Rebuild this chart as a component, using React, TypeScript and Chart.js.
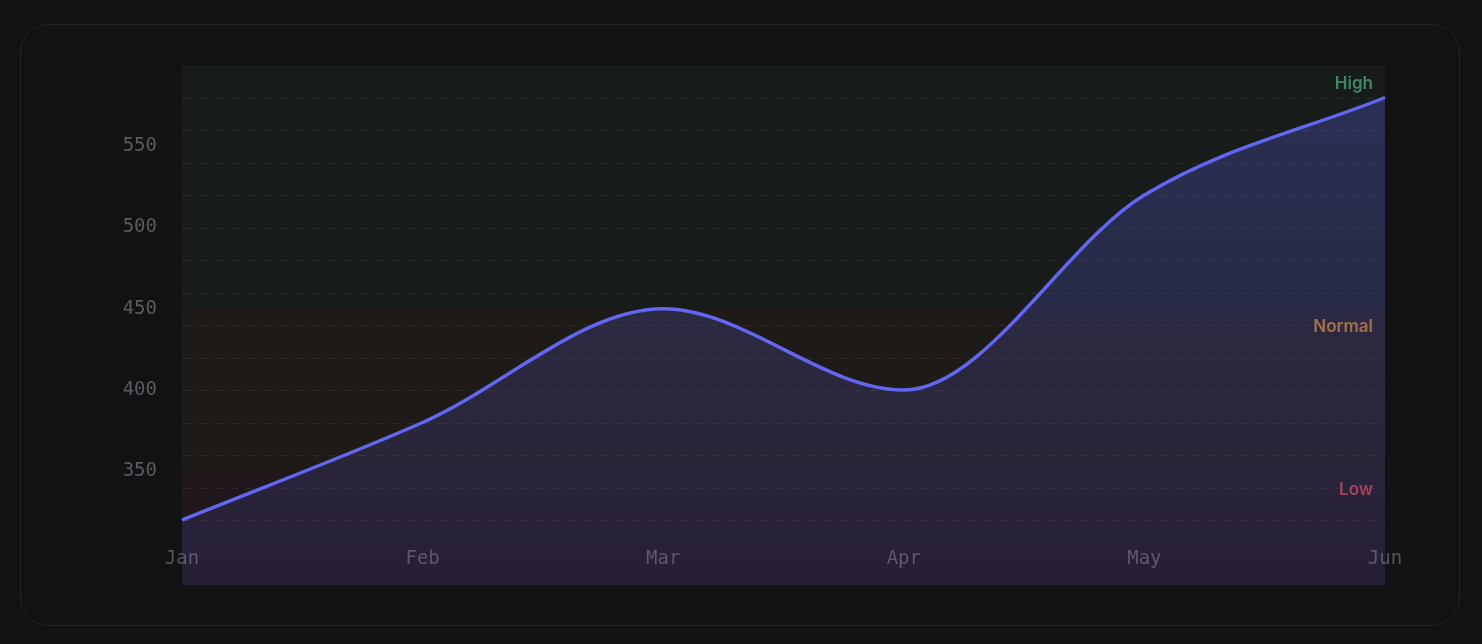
import React, { useEffect, useRef } from "react";
import { Chart, registerables } from "chart.js";

Chart.register(...registerables);

const months = ["Jan", "Feb", "Mar", "Apr", "May", "Jun"];
const values = [320, 380, 450, 400, 520, 580];
const yTickValues = [350, 400, 450, 500, 550];
const gridValues = [320, 340, 360, 380, 400, 420, 440, 460, 480, 500, 520, 540, 560, 580];
const bandNames = ["High", "Normal", "Low"];
const bandFrom = [450, 350, 280];
const bandTo = [600, 450, 350];
const bandFill = ["rgba(118,218,170,0.05)", "rgba(235,168,87,0.06)", "rgba(232,104,148,0.065)"];
const bandText = ["#3f8a62", "#a4714c", "#a4455a"];
const yMin = 280;
const yMax = 600;

const bandsPlugin = {
  id: "bands",
  beforeDatasetsDraw(chart: any) {
    const { ctx, chartArea, scales } = chart;
    const y = scales.y;
    ctx.save();
    for (let i = 0; i < bandNames.length; i++) {
      const top = y.getPixelForValue(bandTo[i]);
      const bottom = y.getPixelForValue(bandFrom[i]);
      ctx.fillStyle = bandFill[i];
      ctx.fillRect(chartArea.left, top, chartArea.right - chartArea.left, bottom - top);
    }
    ctx.strokeStyle = "rgba(255,255,255,0.075)";
    ctx.lineWidth = 1;
    ctx.setLineDash([8, 8]);
    for (const v of gridValues) {
      const py = Math.round(y.getPixelForValue(v)) + 0.5;
      ctx.beginPath();
      ctx.moveTo(chartArea.left, py);
      ctx.lineTo(chartArea.right, py);
      ctx.stroke();
    }
    ctx.restore();
  },
  afterDatasetsDraw(chart: any) {
    const { ctx, chartArea, scales } = chart;
    const y = scales.y;
    ctx.save();
    ctx.font = "600 17px Inter, 'Noto Sans', sans-serif";
    ctx.textAlign = "right";
    ctx.textBaseline = "middle";
    for (let i = 0; i < bandNames.length; i++) {
      const top = y.getPixelForValue(bandTo[i]);
      ctx.fillStyle = bandText[i];
      ctx.fillText(bandNames[i], chartArea.right - 12, top + 18.5);
    }
    ctx.restore();
  },
};

export default function App() {
  const ref = useRef<HTMLCanvasElement>(null);
  useEffect(() => {
    if (!ref.current) return;
    const chart = new Chart(ref.current, {
      type: "line",
      data: {
        labels: months,
        datasets: [
          {
            data: values,
            borderColor: "#6366f1",
            borderWidth: 3.5,
            cubicInterpolationMode: "monotone",
            pointRadius: 0,
            pointHoverRadius: 0,
            fill: "start",
            backgroundColor: (c: any) => {
              const area = c.chart.chartArea;
              if (!area) return "rgba(99,102,241,0.2)";
              const g = c.chart.ctx.createLinearGradient(0, area.top, 0, area.bottom);
              g.addColorStop(0, "rgba(99,102,241,0.28)");
              g.addColorStop(1, "rgba(99,102,241,0.11)");
              return g;
            },
          },
        ],
      },
      options: {
        animation: false,
        responsive: false,
        maintainAspectRatio: false,
        layout: { padding: { left: 41, top: 40, right: 74, bottom: 40 } },
        plugins: { legend: { display: false }, tooltip: { enabled: false } },
        scales: {
          x: {
            offset: false,
            grid: { display: false },
            border: { display: false },
            ticks: {
              mirror: true,
              padding: 15,
              color: "#55545c",
              font: { family: "'DejaVu Sans Mono', monospace", size: 19 },
              maxRotation: 0,
            },
            afterFit: (s: any) => {
              s.height = 0;
            },
          },
          y: {
            min: yMin,
            max: yMax,
            grid: { display: false },
            border: { display: false },
            ticks: {
              padding: 17,
              color: "#5a5a61",
              font: { family: "'DejaVu Sans Mono', monospace", size: 19 },
            },
            afterBuildTicks: (s: any) => {
              s.ticks = yTickValues.map((v) => ({ value: v }));
            },
            afterFit: (s: any) => {
              s.width = 120;
            },
          },
        },
      },
      plugins: [bandsPlugin],
    });
    return () => chart.destroy();
  }, []);

  return (
    <div style={{ position: "fixed", inset: 0, background: "#121214" }}>
      <div
        style={{
          position: "absolute",
          left: 20,
          top: 24,
          width: 1440,
          height: 602,
          boxSizing: "border-box",
          border: "1px solid #232327",
          borderRadius: 28,
          background: "#121214",
        }}
      >
        <canvas ref={ref} width={1438} height={600} style={{ position: "absolute", left: 0, top: 0, width: 1438, height: 600 }} />
      </div>
    </div>
  );
}
